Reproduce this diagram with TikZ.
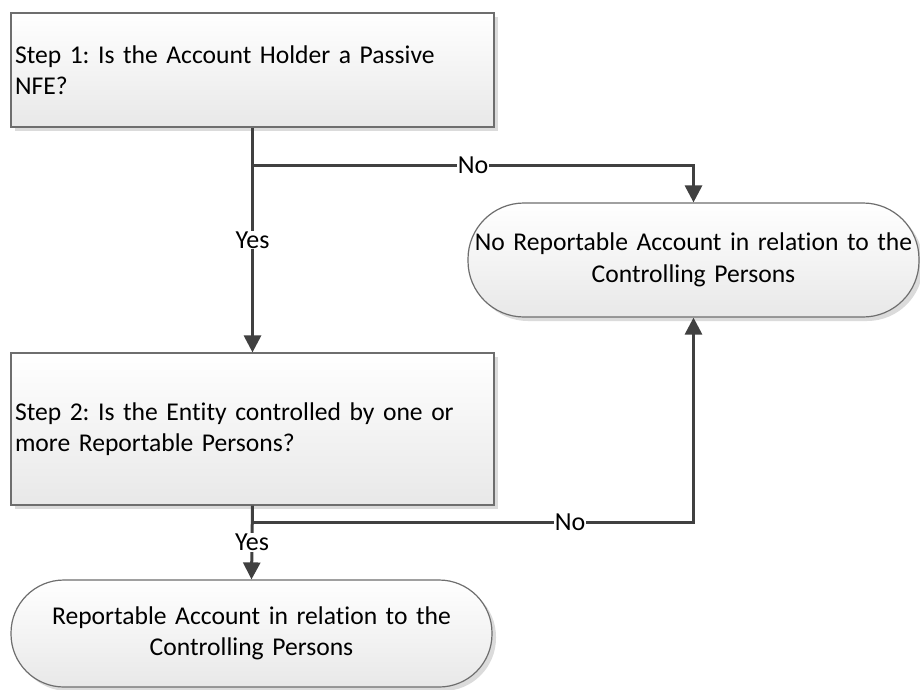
\documentclass[tikz,border=0pt]{standalone}
\usepackage{fontspec}
\setmainfont[Ligatures=NoCommon]{Carlito}
\usetikzlibrary{arrows.meta,shadows,calc}
\definecolor{linec}{HTML}{404040}
\definecolor{borderc}{HTML}{6E6E6E}
\frenchspacing
\begin{document}
\begin{tikzpicture}[x=1pt,y=-1pt,
  txt/.style={font=\fontsize{25.6}{31.5}\selectfont},
  boxfill/.style={draw=borderc, line width=1.2pt, top color=white, bottom color=black!9,
    drop shadow={shadow xshift=4pt, shadow yshift=-4pt, fill=black!14, opacity=1}},
  stepbox/.style={boxfill, txt, text width=475pt, inner sep=4pt, align=left, minimum width=483pt},
  term/.style={boxfill, txt, inner sep=4pt, align=center},
  conn/.style={draw=linec, line width=3pt},
  arr/.style={conn, -{Triangle[width=17pt,length=17pt]}},
  lab/.style={fill=white, inner sep=1pt, font=\fontsize{26}{30}\selectfont}]
\fill[white] (0,0) rectangle (920,689);
\useasboundingbox (0,0) rectangle (920,689);

\node[stepbox, minimum height=114pt] (b1) at (252.5,70) {Step 1: Is the Account Holder a Passive\\NFE?};
\node[stepbox, minimum height=152pt] (b2) at (252.5,429) {Step 2: Is the Entity controlled by one or\\more Reportable Persons?};
\node[term, text width=443pt, minimum height=114pt, rounded corners=56pt] (t1) at (693.5,260) {No Reportable Account in relation to the\\Controlling Persons};
\node[term, text width=473pt, minimum height=107pt, rounded corners=53pt] (t2) at (251.5,633.5) {Reportable Account in relation to the\\Controlling Persons};

\coordinate (j1) at ($(b1.south)+(0,38)$);
\coordinate (j2) at ($(b2.south)+(0,17)$);
\coordinate (j3) at (j2 -| t1.south);

\draw[arr] (b1.south) -- node[lab]{Yes} (b2.north);
\draw[arr] (j1) -| node[lab,pos=0.25]{No} (t1.north);
\draw[arr] (b2.south) -- node[lab]{Yes} (t2.north);
\draw[arr] (b2.south) -- (j2) -- node[lab,pos=0.72]{No} (j3) -- (t1.south);
\end{tikzpicture}
\end{document}
